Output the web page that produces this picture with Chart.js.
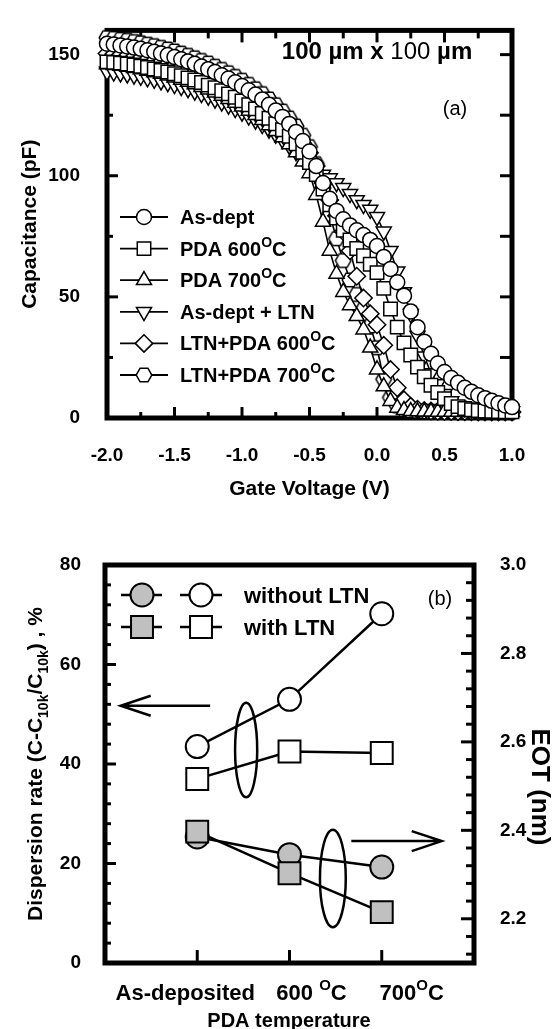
<!DOCTYPE html>
<html>
<head>
<meta charset="utf-8">
<script src="https://cdn.jsdelivr.net/npm/chart.js@4.4.1/dist/chart.umd.min.js"></script>
<style>
  body { margin: 0; background: #fff; }
  #wrap { position: relative; width: 558px; height: 1029px; overflow: hidden; }
  canvas { position: absolute; left: 0; }
  #cvA { top: 0; }
  #cvB { top: 520px; }
</style>
</head>
<body>
<div id="wrap">
  <canvas id="cvA" width="558" height="520"></canvas>
  <canvas id="cvB" width="558" height="509"></canvas>
</div>
<script>
// ---- panel (a) : C-V curves ----
const gateV = [-2.00,-1.95,-1.90,-1.85,-1.80,-1.75,-1.70,-1.65,-1.60,-1.55,
  -1.50,-1.45,-1.40,-1.35,-1.30,-1.25,-1.20,-1.15,-1.10,-1.05,
  -1.00,-0.95,-0.90,-0.85,-0.80,-0.75,-0.70,-0.65,-0.60,-0.55,
  -0.50,-0.45,-0.40,-0.35,-0.30,-0.25,-0.20,-0.15,-0.10,-0.05,
  0.00,0.05,0.10,0.15,0.20,0.25,0.30,0.35,0.40,0.45,
  0.50,0.55,0.60,0.65,0.70,0.75,0.80,0.85,0.90,0.95,1.00]

const capAsDept = [154.5,154.2,153.8,153.4,152.9,152.4,151.8,151.2,150.5,149.8,
  149.0,148.1,147.2,146.2,145.1,144.0,142.8,141.5,140.1,138.6,
  137.0,135.3,133.5,131.5,129.3,126.9,124.3,121.4,118.1,114.3,
  110.0,104.0,97.0,90.5,85.5,82.0,79.5,77.5,75.5,73.5,
  71.0,66.5,61.5,56.0,50.5,44.0,37.5,31.5,26.5,22.5,
  19.0,16.5,14.5,12.5,10.8,9.4,8.2,7.1,6.1,5.2,4.5]

const capPda600 = [147.0,146.8,146.5,146.1,145.7,145.2,144.7,144.1,143.5,142.8,
  142.1,141.3,140.4,139.5,138.5,137.4,136.3,135.1,133.8,132.4,
  130.9,129.3,127.6,125.7,123.7,121.5,119.0,116.3,113.2,109.7,
  105.5,100.5,94.5,88.0,82.5,77.5,73.5,70.0,67.0,63.5,
  60.0,53.5,45.0,37.5,31.0,26.0,21.0,17.0,13.5,10.5,
  8.0,6.0,4.7,3.9,3.4,3.1,2.9,2.8,2.7,2.6,2.6]

const capPda700 = [146.0,145.7,145.3,144.9,144.4,143.9,143.3,142.7,142.0,141.3,
  140.5,139.6,138.7,137.7,136.6,135.5,134.3,133.0,131.6,130.1,
  128.5,126.8,125.0,123.0,120.8,118.4,115.8,112.9,109.6,105.8,
  101.0,92.0,81.0,69.0,59.5,52.0,46.5,42.0,36.5,29.0,
  20.0,13.0,7.0,4.2,3.2,2.8,2.7,2.6,2.6,2.5,
  2.5,2.5,2.5,2.4,2.4,2.4,2.4,2.4,2.4,2.4,2.4]

const capAsDeptLtn = [143.0,142.7,142.3,141.9,141.4,140.9,140.3,139.7,139.0,138.3,
  137.5,136.7,135.8,134.8,133.8,132.7,131.5,130.3,129.0,127.6,
  126.1,124.5,122.8,121.0,119.1,117.0,114.8,112.4,109.8,107.0,
  104.2,102.0,100.5,99.0,97.0,95.0,92.5,90.0,88.0,86.0,
  83.0,77.0,69.0,60.5,52.0,43.0,34.0,25.5,18.5,14.0,
  10.0,7.0,5.2,4.2,3.6,3.3,3.1,3.0,2.9,2.9,2.8]

const capLtnPda600 = [150.5,150.2,149.9,149.5,149.1,148.6,148.1,147.5,146.9,146.2,
  145.5,144.7,143.8,142.9,141.9,140.8,139.7,138.5,137.2,135.8,
  134.3,132.7,131.0,129.1,127.1,124.9,122.5,119.8,116.8,113.4,
  109.5,104.0,97.0,90.0,83.5,77.0,69.0,58.5,49.5,43.0,
  38.5,30.0,20.0,12.5,7.5,4.8,3.6,3.1,2.9,2.8,
  2.7,2.7,2.6,2.6,2.6,2.5,2.5,2.5,2.5,2.5,2.5]

const capLtnPda700 = [157.0,156.7,156.3,155.9,155.4,154.9,154.3,153.7,153.0,152.3,
  151.5,150.6,149.7,148.7,147.6,146.5,145.2,143.9,142.5,141.0,
  139.4,137.7,135.9,133.9,131.7,129.3,126.7,123.8,120.5,116.7,
  112.0,105.0,95.0,84.0,74.0,65.0,57.0,51.0,45.0,38.0,
  29.0,16.0,8.5,5.0,3.5,3.0,2.8,2.7,2.6,2.6,
  2.5,2.5,2.5,2.5,2.5,2.5,2.5,2.5,2.5,2.5,2.5]

const namesA = ['As-dept', 'PDA 600^O^C', 'PDA 700^O^C', 'As-dept + LTN', 'LTN+PDA 600^O^C', 'LTN+PDA 700^O^C']
const xTicksA = [-2.0, -1.5, -1.0, -0.5, 0.0, 0.5, 1.0]
const xMinorA = [-1.75, -1.25, -0.75, -0.25, 0.25, 0.75]
const yTicksA = [0, 50, 100, 150]
const yMinorA = [25, 75, 125]

// ---- panel (b) : dispersion rate and EOT ----
const pdaCats = ['As-deposited', '600 ^O^C', '700^O^C']
const pdaPos = [1, 2, 3]
const dispNoLtn = [43.5, 53.0, 70.2]
const dispLtn = [37.0, 42.5, 42.2]
const eotNoLtn = [2.385, 2.345, 2.317]
const eotLtn = [2.397, 2.303, 2.215]
const yTicksB = [0, 20, 40, 60, 80]
const yMinorB = [4, 8, 12, 16, 24, 28, 32, 36, 44, 48, 52, 56, 64, 68, 72, 76]
const eotTicks = [2.2, 2.4, 2.6, 2.8, 3.0]
const eotMinor = [2.12, 2.16, 2.24, 2.28, 2.32, 2.36, 2.44, 2.48, 2.52, 2.56, 2.64, 2.68, 2.72, 2.76, 2.84, 2.88, 2.92, 2.96]

const FONT = 'Arial, "Liberation Sans", Helvetica, sans-serif'
Chart.defaults.font.family = FONT
Chart.defaults.color = '#000'
const tickFont = { size: 19, weight: 'bold' }

// text helpers: ^sup^ and _sub_
function runsOf(str, size, weight) {
  const runs = []
  let mode = 'n', buf = ''
  const push = () => {
    if (!buf) return
    const small = Math.round(size * 0.68)
    runs.push({
      t: buf,
      font: `${weight} ${mode === 'n' ? size : small}px ${FONT}`,
      dy: mode === 'sup' ? -size * 0.45 : mode === 'sub' ? size * 0.3 : 0
    })
    buf = ''
  }
  for (const ch of str) {
    if (ch === '^' || ch === '_') {
      push()
      const m = ch === '^' ? 'sup' : 'sub'
      mode = mode === m ? 'n' : m
    } else buf += ch
  }
  push()
  return runs
}

function drawRuns(ctx, runs, x, y, align) {
  let w = 0
  runs.forEach(r => { ctx.font = r.font; r.w = ctx.measureText(r.t).width; w += r.w })
  let cx = align === 'center' ? x - w / 2 : align === 'right' ? x - w : x
  ctx.textAlign = 'left'
  ctx.textBaseline = 'alphabetic'
  runs.forEach(r => { ctx.font = r.font; ctx.fillText(r.t, cx, y + (r.dy || 0)); cx += r.w })
}

function drawRich(ctx, str, x, y, size, weight, align) {
  drawRuns(ctx, runsOf(str, size, weight), x, y, align)
}

function hexMarker(r) {
  const c = document.createElement('canvas')
  c.width = c.height = Math.ceil(2 * r + 4)
  const g = c.getContext('2d')
  const m = c.width / 2
  g.beginPath()
  for (let i = 0; i < 6; i++) {
    const a = i * Math.PI / 3
    g.lineTo(m + r * Math.cos(a), m + r * Math.sin(a))
  }
  g.closePath()
  g.fillStyle = '#fff'
  g.fill()
  g.lineWidth = 1.5
  g.strokeStyle = '#000'
  g.stroke()
  return c
}

function marker(ctx, m, x, y, fill, bw) {
  ctx.save()
  ctx.fillStyle = fill
  ctx.strokeStyle = '#000'
  ctx.lineWidth = bw
  Chart.helpers.drawPoint(ctx, { pointStyle: m.style, rotation: m.rot || 0, radius: m.r, borderWidth: bw }, x, y)
  ctx.restore()
}

// thick frame with inward ticks
const frameTicks = {
  id: 'frameTicks',
  beforeDatasetsDraw(chart, args, opts) {
    const { ctx, chartArea: a, scales } = chart
    ctx.save()
    ctx.strokeStyle = '#000'
    ctx.lineWidth = 5
    ctx.lineJoin = 'miter'
    ctx.strokeRect(a.left, a.top, a.right - a.left, a.bottom - a.top)
    ctx.lineWidth = 3
    opts.marks.forEach(m => {
      const s = scales[m.scale]
      m.values.forEach(v => {
        const p = s.getPixelForValue(v)
        ctx.beginPath()
        if (m.side === 'bottom') { ctx.moveTo(p, a.bottom); ctx.lineTo(p, a.bottom - m.len) }
        if (m.side === 'top') { ctx.moveTo(p, a.top); ctx.lineTo(p, a.top + m.len) }
        if (m.side === 'left') { ctx.moveTo(a.left, p); ctx.lineTo(a.left + m.len, p) }
        if (m.side === 'right') { ctx.moveTo(a.right, p); ctx.lineTo(a.right - m.len, p) }
        ctx.stroke()
      })
    })
    ctx.restore()
  }
}

// ---- chart (a) ----
const hex = hexMarker(7.8)
const marksA = [
  { style: 'circle', r: 7.5 },
  { style: 'rect', r: 9.5 },
  { style: 'triangle', r: 8.7 },
  { style: 'triangle', r: 8.7, rot: 180 },
  { style: 'rectRot', r: 8.7 },
  { style: hex, r: 7.8 }
]
const valuesA = [capAsDept, capPda600, capPda700, capAsDeptLtn, capLtnPda600, capLtnPda700]

const panelA = {
  id: 'panelA',
  afterDraw(chart) {
    const { ctx } = chart
    ctx.save()
    ctx.fillStyle = '#000'
    drawRuns(ctx, [
      { t: '100 \u00b5m x ', font: `bold 24px ${FONT}` },
      { t: '100', font: `24px ${FONT}` },
      { t: ' \u00b5m', font: `bold 24px ${FONT}` }
    ], 377, 59, 'center')
    drawRich(ctx, '(a)', 455, 115, 20, 'normal', 'center')
    namesA.forEach((name, i) => {
      const y = 217 + i * 31.6
      ctx.strokeStyle = '#000'
      ctx.lineWidth = 1.8
      ctx.beginPath()
      ctx.moveTo(120, y)
      ctx.lineTo(168, y)
      ctx.stroke()
      marker(ctx, marksA[i], 144, y, '#fff', 1.5)
      ctx.fillStyle = '#000'
      drawRich(ctx, name, 180, y + 7, 20, 'bold', 'left')
    })
    ctx.restore()
  }
}

new Chart(document.getElementById('cvA'), {
  type: 'line',
  data: {
    datasets: valuesA.map((vals, i) => ({
      label: namesA[i].replace('^O^', '\u00b0'),
      data: gateV.map((v, k) => ({ x: v, y: vals[k] })),
      borderColor: '#000',
      borderWidth: 1.6,
      backgroundColor: '#fff',
      pointBackgroundColor: '#fff',
      pointBorderColor: '#000',
      pointBorderWidth: 1.5,
      pointStyle: marksA[i].style,
      pointRadius: marksA[i].r,
      pointRotation: marksA[i].rot || 0,
      tension: 0,
      clip: false
    }))
  },
  options: {
    responsive: false,
    animation: false,
    events: [],
    layout: { padding: { top: 15, right: 46, left: 0, bottom: 0 } },
    plugins: {
      legend: { display: false },
      tooltip: { enabled: false },
      frameTicks: {
        marks: [
          { scale: 'x', side: 'bottom', values: xTicksA, len: 11 },
          { scale: 'x', side: 'bottom', values: xMinorA, len: 6 },
          { scale: 'x', side: 'top', values: xTicksA, len: 12 },
          { scale: 'x', side: 'top', values: xMinorA, len: 8 },
          { scale: 'y', side: 'left', values: yTicksA, len: 11 },
          { scale: 'y', side: 'left', values: yMinorA, len: 6 },
          { scale: 'y', side: 'right', values: yTicksA, len: 12 },
          { scale: 'y', side: 'right', values: yMinorA, len: 12 }
        ]
      }
    },
    scales: {
      x: {
        type: 'linear', min: -2, max: 1,
        afterBuildTicks: s => { s.ticks = xTicksA.map(v => ({ value: v })) },
        afterFit: s => { s.height = 102 },
        grid: { display: false }, border: { display: false },
        ticks: { callback: v => v.toFixed(1), padding: 18, font: tickFont, color: '#000', maxRotation: 0, autoSkip: false },
        title: { display: true, text: 'Gate Voltage (V)', color: '#000', font: { size: 21, weight: 'bold' }, padding: { top: 0, bottom: 18 } }
      },
      y: {
        min: 0, max: 160,
        afterBuildTicks: s => { s.ticks = yTicksA.map(v => ({ value: v })) },
        afterFit: s => { s.width = 107 },
        grid: { display: false }, border: { display: false },
        ticks: { padding: 19, font: tickFont, color: '#000' },
        title: { display: true, text: 'Capacitance (pF)', color: '#000', font: { size: 21, weight: 'bold' }, padding: { top: 18, bottom: 0 } }
      }
    }
  },
  plugins: [frameTicks, panelA]
})

// ---- chart (b) ----
const GRAY = '#c0c0c0'
const circB = { style: 'circle', r: 11.5 }
const rectB = { style: 'rect', r: 15.5 }
const ellipsesB = [
  { x: 1.53, y: 42.8, rx: 0.12, ry: 9.5 },
  { x: 2.47, y: 17.0, rx: 0.14, ry: 9.8 }
]
const arrowsB = [
  { x0: 1.14, x1: 0.17, y: 51.7 },
  { x0: 2.67, x1: 3.65, y: 24.5 }
]

const panelB = {
  id: 'panelB',
  afterDraw(chart) {
    const { ctx, scales } = chart
    const sx = scales.x, sy = scales.y
    ctx.save()
    ctx.strokeStyle = '#000'
    ctx.fillStyle = '#000'
    ctx.lineWidth = 2.5
    ellipsesB.forEach(e => {
      const cx = sx.getPixelForValue(e.x), cy = sy.getPixelForValue(e.y)
      const rx = sx.getPixelForValue(e.x + e.rx) - cx
      const ry = cy - sy.getPixelForValue(e.y + e.ry)
      ctx.beginPath()
      ctx.ellipse(cx, cy, rx, ry, 0, 0, Math.PI * 2)
      ctx.stroke()
    })
    arrowsB.forEach(a => {
      const x0 = sx.getPixelForValue(a.x0), x1 = sx.getPixelForValue(a.x1), y = sy.getPixelForValue(a.y)
      const d = Math.sign(x1 - x0)
      ctx.beginPath()
      ctx.moveTo(x0, y)
      ctx.lineTo(x1, y)
      ctx.moveTo(x1 - d * 30, y - 10)
      ctx.lineTo(x1, y)
      ctx.lineTo(x1 - d * 30, y + 10)
      ctx.stroke()
    })

    // legend
    const rows = [
      { name: 'without LTN', m: circB, y: 75 },
      { name: 'with LTN', m: rectB, y: 107 }
    ]
    rows.forEach(r => {
      ctx.lineWidth = 2.5
      ctx.beginPath()
      ctx.moveTo(121, r.y); ctx.lineTo(162, r.y)
      ctx.moveTo(180, r.y); ctx.lineTo(222, r.y)
      ctx.stroke()
      marker(ctx, r.m, 142, r.y, GRAY, 2)
      marker(ctx, r.m, 201, r.y, '#fff', 2)
      ctx.fillStyle = '#000'
      drawRich(ctx, r.name, 244, r.y + 8, 22, 'bold', 'left')
    })
    drawRich(ctx, '(b)', 440, 85, 20, 'normal', 'center')

    // category labels
    const shift = [-12, 22, 30]
    pdaCats.forEach((c, i) => {
      drawRich(ctx, c, sx.getPixelForValue(pdaPos[i]) + shift[i], 480, 22, 'bold', 'center')
    })
    drawRich(ctx, 'PDA temperature', 289, 507, 20, 'bold', 'center')

    // rotated axis titles
    ctx.save()
    ctx.translate(34, 244)
    ctx.rotate(-Math.PI / 2)
    drawRich(ctx, 'Dispersion rate (C-C_10k_/C_10k_) , %', 0, 7.5, 21, 'bold', 'center')
    ctx.restore()
    ctx.save()
    ctx.translate(541, 267)
    ctx.rotate(Math.PI / 2)
    drawRich(ctx, 'EOT (nm)', 0, 9, 26, 'bold', 'center')
    ctx.restore()
    ctx.restore()
  }
}

function seriesB(label, vals, axis, m, fill) {
  return {
    label,
    data: pdaPos.map((x, i) => ({ x, y: vals[i] })),
    yAxisID: axis,
    borderColor: '#000',
    borderWidth: 2.5,
    pointStyle: m.style,
    pointRadius: m.r,
    pointBackgroundColor: fill,
    pointBorderColor: '#000',
    pointBorderWidth: 2,
    tension: 0,
    clip: false
  }
}

new Chart(document.getElementById('cvB'), {
  type: 'line',
  data: {
    datasets: [
      seriesB('EOT with LTN', eotLtn, 'y2', rectB, GRAY),
      seriesB('EOT without LTN', eotNoLtn, 'y2', circB, GRAY),
      seriesB('Dispersion with LTN', dispLtn, 'y', rectB, '#fff'),
      seriesB('Dispersion without LTN', dispNoLtn, 'y', circB, '#fff')
    ]
  },
  options: {
    responsive: false,
    animation: false,
    events: [],
    layout: { padding: { top: 45, right: 0, left: 0, bottom: 0 } },
    plugins: {
      legend: { display: false },
      tooltip: { enabled: false },
      frameTicks: {
        marks: [
          { scale: 'x', side: 'bottom', values: pdaPos, len: 13 },
          { scale: 'y', side: 'left', values: yTicksB, len: 11 },
          { scale: 'y', side: 'left', values: yMinorB, len: 6 },
          { scale: 'y2', side: 'right', values: eotTicks, len: 13 },
          { scale: 'y2', side: 'right', values: eotMinor, len: 8 }
        ]
      }
    },
    scales: {
      x: {
        type: 'linear', min: 0, max: 4,
        afterFit: s => { s.height = 66 },
        grid: { display: false }, border: { display: false },
        ticks: { display: false }
      },
      y: {
        position: 'left', min: 0, max: 80,
        afterBuildTicks: s => { s.ticks = yTicksB.map(v => ({ value: v })) },
        afterFit: s => { s.width = 105 },
        grid: { display: false }, border: { display: false },
        ticks: { padding: 16, font: tickFont, color: '#000' }
      },
      y2: {
        position: 'right', min: 2.1, max: 3.0,
        afterBuildTicks: s => { s.ticks = eotTicks.map(v => ({ value: v })) },
        afterFit: s => { s.width = 84 },
        grid: { display: false }, border: { display: false },
        ticks: { padding: 18, font: tickFont, color: '#000', callback: v => v.toFixed(1) }
      }
    }
  },
  plugins: [frameTicks, panelB]
})
</script>
</body>
</html>
